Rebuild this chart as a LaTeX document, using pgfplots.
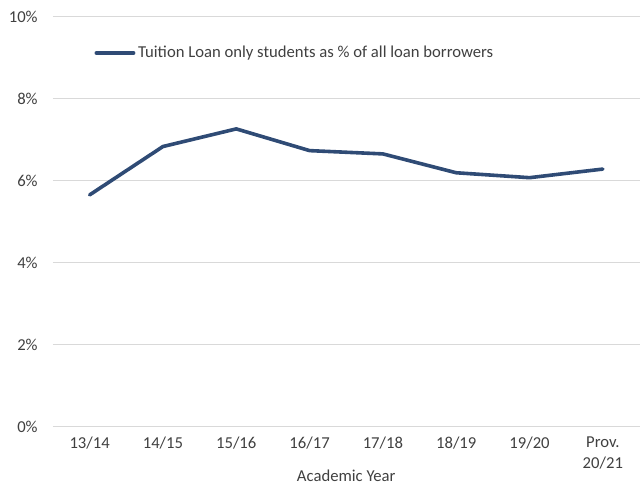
\documentclass[border=0pt]{standalone}
\usepackage{pgfplots}
\pgfplotsset{compat=1.18}
\usepackage{fontspec}
\setmainfont{Carlito}
\usetikzlibrary{calc}
\definecolor{linecol}{RGB}{47,75,117}
\definecolor{gridcol}{RGB}{217,217,217}
\definecolor{textcol}{RGB}{64,64,64}
\begin{document}
\begin{tikzpicture}
\begin{axis}[
  scale only axis,
  width=440pt, height=307.5pt,
  xmin=-0.5, xmax=7.5,
  ymin=0, ymax=10,
  axis line style={draw=none},
  xtick={0,1,2,3,4,5,6,7},
  xticklabels={13/14,14/15,15/16,16/17,17/18,18/19,19/20,{Prov.\\20/21}},
  xticklabel style={align=center, font=\fontsize{12.5}{15.5}\selectfont, text=textcol, yshift=-4pt},
  ytick={0,2,4,6,8,10},
  yticklabels={0\%,2\%,4\%,6\%,8\%,10\%},
  yticklabel style={font=\fontsize{12.5}{15}\selectfont, text=textcol, xshift=-8pt},
  major tick length=0pt,
  ymajorgrids,
  grid style={gridcol, line width=0.75pt},
  xlabel={Academic Year},
  xlabel style={font=\fontsize{12.5}{15}\selectfont, text=textcol, yshift=6pt},
  legend style={at={(0.0635,0.912)}, anchor=west, draw=none, fill=none,
    font=\fontsize{12.5}{15}\selectfont, text=textcol},
  legend cell align=left,
  legend image code/.code={\draw[line width=2.7pt, linecol, line cap=round] (0pt,0pt) -- (28pt,0pt);},
]
\addplot[linecol, line width=2.7pt, line join=round, line cap=round] coordinates {
  (0,5.66) (1,6.84) (2,7.27) (3,6.74) (4,6.66) (5,6.20) (6,6.08) (7,6.29)
};
\addlegendentry{Tuition Loan only students as \% of all loan borrowers}
\end{axis}
\path[use as bounding box] ($(current axis.south west)+(-39.75pt,-42.75pt)$) rectangle ($(current axis.north east)+(0pt,12.75pt)$);
\end{tikzpicture}
\end{document}
